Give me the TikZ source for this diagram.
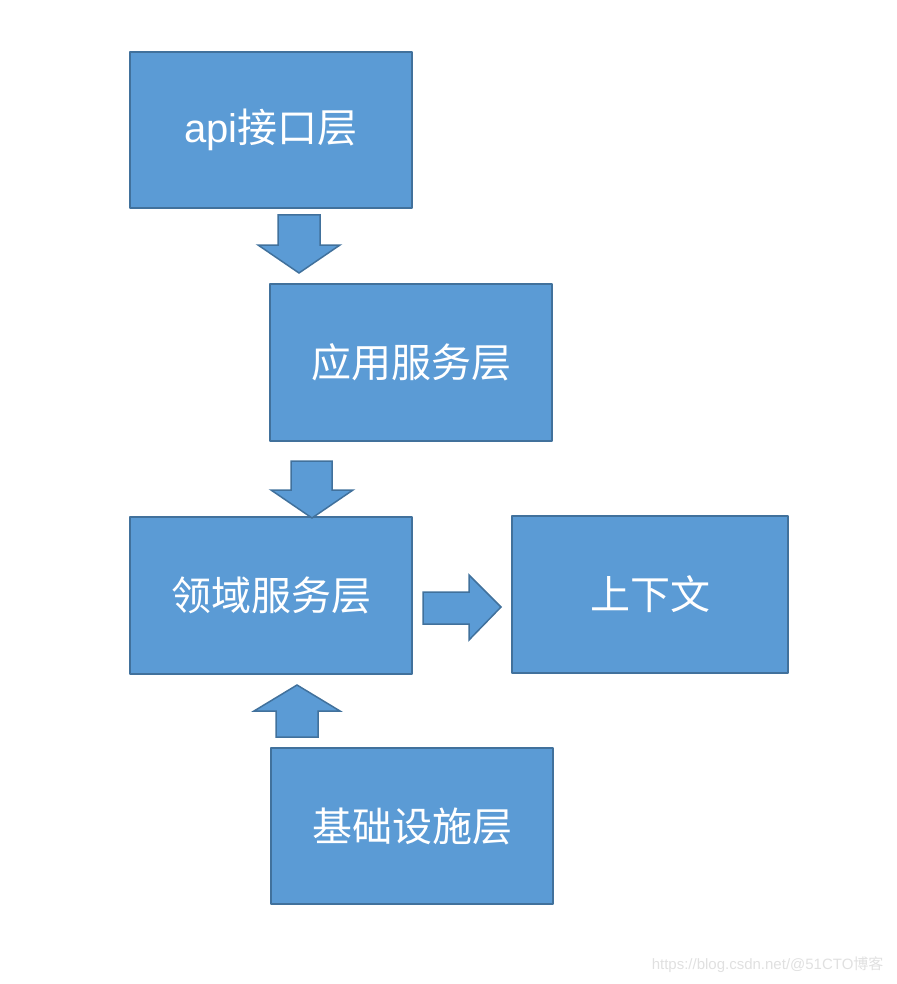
\documentclass[tikz,border=0pt]{standalone}
\usepackage{fontspec}
\setmainfont{Liberation Sans}
\newfontfamily\cjk{Noto Sans CJK SC}
\definecolor{boxfill}{HTML}{5B9BD5}
\definecolor{boxline}{HTML}{41719C}
\tikzset{
	layer/.style={draw=boxline, fill=boxfill, line width=1.5pt, text=white, font=\cjk\fontsize{40}{46}\selectfont},
	blockarrow/.style={draw=boxline, fill=boxfill, line width=1.5pt, line join=miter}
}
\begin{document}
\begin{tikzpicture}[x=1pt, y=-1pt, line join=round]
				\useasboundingbox (0,0) rectangle (896,984);
				% layers
				\draw[layer] (130,52) rectangle (412,208) node[midway] (api) {{\rmfamily api}接口层};
				\draw[layer] (270,284) rectangle (552,441) node[midway] (app) {应用服务层};
				\draw[layer] (130,517) rectangle (412,674) node[midway] (domain) {领域服务层};
				\draw[layer] (512,516) rectangle (788,673) node[midway] (ctx) {上下文};
				\draw[layer] (271,748) rectangle (553,904) node[midway] (infra) {基础设施层};
				% block arrows
				\draw[blockarrow] (278,215)--(320,215)--(320,245)--(340,245)--(299,273)--(258,245)--(278,245)--cycle;
				\draw[blockarrow] (291,461)--(332,461)--(332,490)--(353,490)--(312,518)--(271,490)--(291,490)--cycle;
				\draw[blockarrow] (423,592)--(469,592)--(469,575)--(501,607)--(469,640)--(469,624)--(423,624)--cycle;
				\draw[blockarrow] (276,737)--(318,737)--(318,711)--(340,711)--(297,685)--(254,711)--(276,711)--cycle;
				% watermark
				\node[anchor=east, text=black!12, font=\fontsize{15}{18}\selectfont] (mark) at (887,965) {https://blog.csdn.net/@51CTO{\cjk 博客}};
\end{tikzpicture}
\end{document}
